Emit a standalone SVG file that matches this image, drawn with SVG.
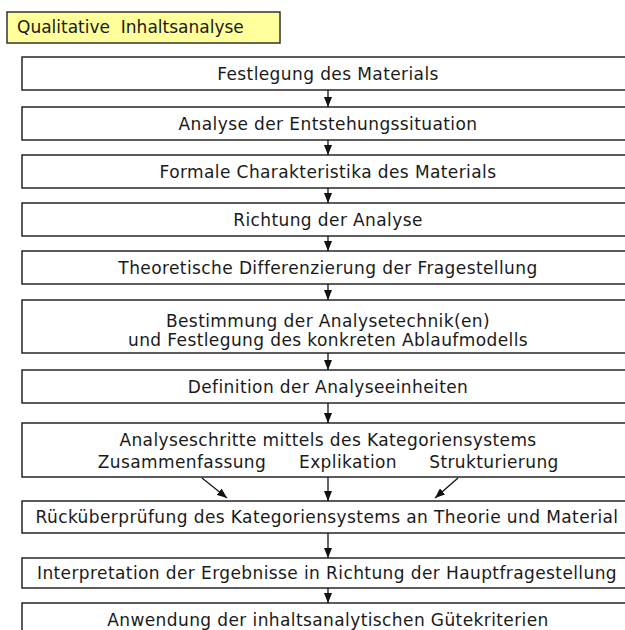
<svg xmlns="http://www.w3.org/2000/svg" width="625" height="630" viewBox="0 0 625 630">
<style>
.box{fill:#ffffff;stroke:#262626;stroke-width:1.5}
.title{fill:#ffff9c;stroke:#333333;stroke-width:1.5}
.t{font-family:"DejaVu Sans",Verdana,sans-serif;font-size:17px;letter-spacing:0.4px;fill:#1a1a1a;text-anchor:middle}
.tl{font-family:"DejaVu Sans",Verdana,sans-serif;font-size:17px;letter-spacing:0px;fill:#1a1a1a}
.c{stroke:#111111;stroke-width:1.3;fill:none;marker-end:url(#ah)}
</style>
<defs>
<marker id="ah" viewBox="0 0 10 8" markerWidth="10" markerHeight="8" refX="10" refY="4" orient="auto" markerUnits="userSpaceOnUse">
<path d="M0,0 L10,4 L0,8 z" fill="#111111"/>
</marker>
</defs>
<rect width="625" height="630" fill="#ffffff"/>
<g id="title">
<rect class="title" x="7" y="12" width="273" height="31"/>
<text class="tl" x="17" y="33" xml:space="preserve">Qualitative  Inhaltsanalyse</text>
</g>
<g id="n1"><rect class="box" x="22" y="57" width="620" height="33"/><text class="t" x="328" y="80">Festlegung des Materials</text></g>
<g id="n2"><rect class="box" x="22" y="107" width="620" height="33"/><text class="t" x="328" y="130">Analyse der Entstehungssituation</text></g>
<g id="n3"><rect class="box" x="22" y="155" width="620" height="33"/><text class="t" x="328" y="178">Formale Charakteristika des Materials</text></g>
<g id="n4"><rect class="box" x="22" y="203" width="620" height="33"/><text class="t" x="328" y="226">Richtung der Analyse</text></g>
<g id="n5"><rect class="box" x="22" y="251" width="620" height="33"/><text class="t" x="328" y="274">Theoretische Differenzierung der Fragestellung</text></g>
<g id="n6"><rect class="box" x="22" y="300" width="620" height="53"/><text class="t" x="328" y="327">Bestimmung der Analysetechnik(en)</text><text class="t" x="328" y="346">und Festlegung des konkreten Ablaufmodells</text></g>
<g id="n7"><rect class="box" x="22" y="370" width="620" height="33"/><text class="t" x="328" y="393">Definition der Analyseeinheiten</text></g>
<g id="n8"><rect class="box" x="22" y="423" width="620" height="54"/><text class="t" x="328" y="446">Analyseschritte mittels des Kategoriensystems</text><text class="t" x="182" y="468">Zusammenfassung</text><text class="t" x="348" y="468">Explikation</text><text class="t" x="494" y="468">Strukturierung</text></g>
<g id="n9"><rect class="box" x="22" y="501" width="620" height="32"/><text class="t" x="327" y="523">Rücküberprüfung des Kategoriensystems an Theorie und Material</text></g>
<g id="n10"><rect class="box" x="22" y="558" width="620" height="30"/><text class="t" x="327" y="579">Interpretation der Ergebnisse in Richtung der Hauptfragestellung</text></g>
<g id="n11"><rect class="box" x="22" y="603" width="620" height="40"/><text class="t" x="328" y="626">Anwendung der inhaltsanalytischen Gütekriterien</text></g>
<g id="connectors">
<line class="c" x1="328" y1="90" x2="328" y2="107"/>
<line class="c" x1="328" y1="140" x2="328" y2="155"/>
<line class="c" x1="328" y1="188" x2="328" y2="203"/>
<line class="c" x1="328" y1="236" x2="328" y2="251"/>
<line class="c" x1="328" y1="284" x2="328" y2="300"/>
<line class="c" x1="328" y1="353" x2="328" y2="370"/>
<line class="c" x1="328" y1="403" x2="328" y2="423"/>
<line class="c" x1="202" y1="478" x2="227" y2="498"/>
<line class="c" x1="328" y1="477" x2="328" y2="501"/>
<line class="c" x1="458" y1="478" x2="435" y2="498"/>
<line class="c" x1="328" y1="533" x2="328" y2="558"/>
<line class="c" x1="328" y1="588" x2="328" y2="603"/>
</g>
</svg>
